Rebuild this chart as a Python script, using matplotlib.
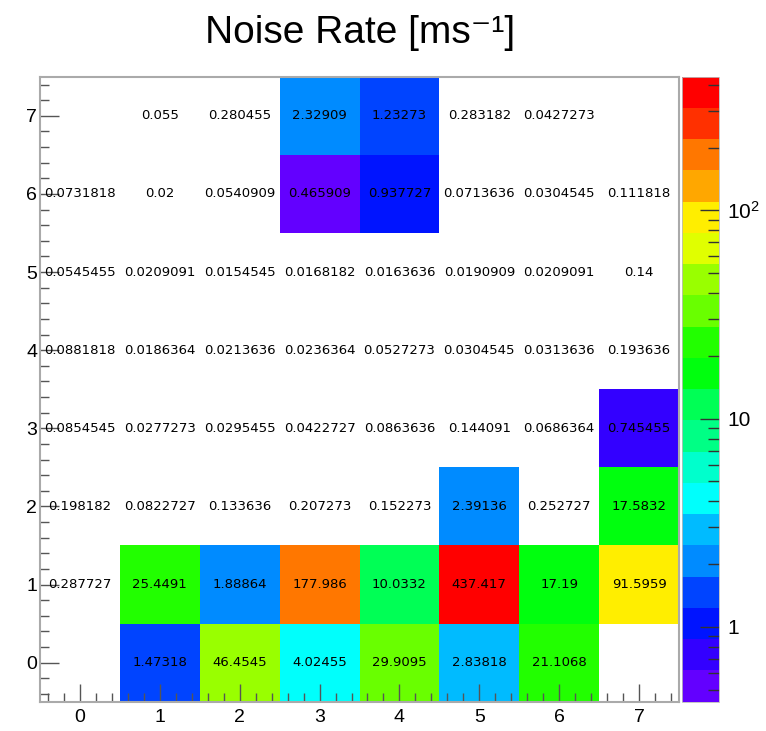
"""
Noise rate map per channel, drawn in the style of a ROOT COLZ TEXT histogram.
"""

import colorsys

import matplotlib
matplotlib.use("Agg")
import matplotlib.pyplot as plt
import numpy as np
from matplotlib.cm import ScalarMappable
from matplotlib.colors import ListedColormap, LogNorm
from matplotlib.ticker import (FixedLocator, FuncFormatter, LogLocator,
                               MultipleLocator, NullFormatter)

x_bins = [0, 1, 2, 3, 4, 5, 6, 7]
y_bins = [0, 1, 2, 3, 4, 5, 6, 7]

# noise rate [ms^-1] per row (y bin), columns follow x_bins; 0 = empty bin
rate_y0 = [0, 1.47318, 46.4545, 4.02455, 29.9095, 2.83818, 21.1068, 0]
rate_y1 = [0.287727, 25.4491, 1.88864, 177.986, 10.0332, 437.417, 17.19, 91.5959]
rate_y2 = [0.198182, 0.0822727, 0.133636, 0.207273, 0.152273, 2.39136, 0.252727, 17.5832]
rate_y3 = [0.0854545, 0.0277273, 0.0295455, 0.0422727, 0.0863636, 0.144091, 0.0686364, 0.745455]
rate_y4 = [0.0881818, 0.0186364, 0.0213636, 0.0236364, 0.0527273, 0.0304545, 0.0313636, 0.193636]
rate_y5 = [0.0545455, 0.0209091, 0.0154545, 0.0168182, 0.0163636, 0.0190909, 0.0209091, 0.14]
rate_y6 = [0.0731818, 0.02, 0.0540909, 0.465909, 0.937727, 0.0713636, 0.0304545, 0.111818]
rate_y7 = [0, 0.055, 0.280455, 2.32909, 1.23273, 0.283182, 0.0427273, 0]

title = "Noise Rate [ms\u207b\u00b9]"

W, H = 766, 731
N_CONTOURS = 20
N_COLORS = 50


def root_palette():
    # ROOT "pretty" palette: 50 hues from violet to red, picked for 20 contours
    pretty = [colorsys.hls_to_rgb((280 - (k + 1) * 280 / N_COLORS) / 360, 0.5, 1.0)
              for k in range(N_COLORS)]
    picks = [min(int((i + 0.99) * N_COLORS / N_CONTOURS), N_COLORS - 1)
             for i in range(N_CONTOURS)]
    return ListedColormap([pretty[k] for k in picks])


def px(x0, y0, x1, y1):
    # pixel box (top-left origin) -> figure fraction rect
    return [x0 / W, 1 - y1 / H, (x1 - x0) / W, (y1 - y0) / H]


plt.rcParams["font.family"] = ["Liberation Sans", "DejaVu Sans"]
plt.rcParams["mathtext.fontset"] = "custom"
plt.rcParams["mathtext.rm"] = "Liberation Sans"
plt.rcParams["mathtext.it"] = "Liberation Sans:italic"

rates = np.array([rate_y0, rate_y1, rate_y2, rate_y3,
                  rate_y4, rate_y5, rate_y6, rate_y7], dtype=float)

# log z range as ROOT picks it when empty bins are present
zmax = rates.max()
zmin = 0.001 * zmax
decades = np.log10(zmax / zmin)

with np.errstate(divide="ignore"):
    level = np.floor(0.01 + np.log10(rates / zmin) * N_CONTOURS / decades)
level = np.clip(level, 0, N_CONTOURS - 1)
level = np.ma.masked_where(rates < zmin, level)

cmap = root_palette()

fig = plt.figure(figsize=(W / 100, H / 100), dpi=100, facecolor="white")
ax = fig.add_axes(px(40, 76.7, 679, 701.7))

edges_x = np.arange(len(x_bins) + 1) - 0.5
edges_y = np.arange(len(y_bins) + 1) - 0.5
ax.pcolormesh(edges_x, edges_y, level, cmap=cmap, vmin=0, vmax=N_CONTOURS,
              shading="flat", edgecolors="none", antialiased=False)

for iy, yv in enumerate(y_bins):
    for ix, xv in enumerate(x_bins):
        val = rates[iy, ix]
        if val == 0:
            continue
        ax.text(xv, yv, f"{val:g}", ha="center", va="center",
                fontsize=9.5, family="DejaVu Sans", color="black")

ax.set_xlim(-0.5, 7.5)
ax.set_ylim(-0.5, 7.5)
ax.xaxis.set_major_locator(FixedLocator(x_bins))
ax.yaxis.set_major_locator(FixedLocator(y_bins))
ax.xaxis.set_minor_locator(MultipleLocator(0.2))
ax.yaxis.set_minor_locator(MultipleLocator(0.2))
ax.tick_params(which="both", direction="in", top=False, right=False,
               color="#555555", labelsize=14, labelcolor="black")
ax.tick_params(axis="x", which="major", length=13, width=1, pad=5)
ax.tick_params(axis="y", which="major", length=14, width=1, pad=2)
ax.tick_params(which="minor", length=6.5, width=1)
for spine in ax.spines.values():
    spine.set_color("#aaaaaa")
    spine.set_linewidth(1.5)

# palette axis
cax = fig.add_axes(px(682, 76.7, 719, 701.7))
sm = ScalarMappable(norm=LogNorm(vmin=zmin, vmax=zmax), cmap=cmap)
cb = fig.colorbar(sm, cax=cax)
cb.outline.set_edgecolor("#bbbbbb")
cb.outline.set_linewidth(0.6)
cax.yaxis.set_major_locator(FixedLocator([1, 10, 100]))
cax.yaxis.set_minor_locator(LogLocator(base=10, subs=np.arange(2, 10)))
cax.yaxis.set_minor_formatter(NullFormatter())
cax.yaxis.set_major_formatter(
    FuncFormatter(lambda v, pos: r"$10^{2}$" if v >= 100 else f"{v:g}"))
cax.tick_params(which="both", direction="in", right=True, left=False,
                color="#333333", labelsize=15, labelcolor="black")
cax.tick_params(which="major", length=14, width=1, pad=6)
cax.tick_params(which="minor", length=8, width=1)

fig.text(360 / W, 1 - 43 / H, title, ha="center", va="baseline", fontsize=28)

fig.savefig("out.png", dpi=100, facecolor="white")
plt.close(fig)
